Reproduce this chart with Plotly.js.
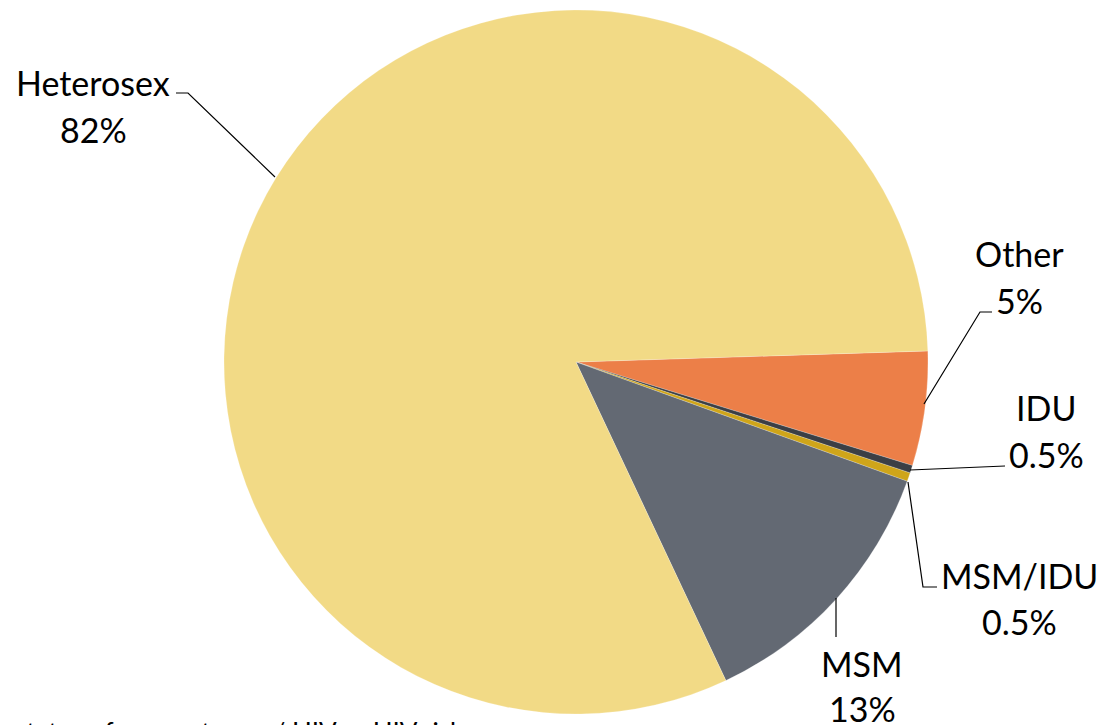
<!DOCTYPE html>
<html>
<head>
<meta charset="utf-8">
<script src="https://cdn.plot.ly/plotly-3.0.1.min.js"></script>
<style>html,body{margin:0;padding:0;background:#fff;}#chart{width:1099px;height:725px;}</style>
</head>
<body>
<div id="chart"></div>
<script>
// Data
const categories = ["Other", "IDU", "MSM/IDU", "MSM", "Heterosex"];
const shares = [5.25, 0.35, 0.4, 12.5, 81.5];
const shareLabels = ["5%", "0.5%", "0.5%", "13%", "82%"];
const sliceColors = ["#EC7F48", "#3B3F45", "#CFA51A", "#636973", "#F2DA86"];
const footnote = "status of sex partner w/ HIV or HIV risk";

const W = 1099, H = 725;
const px = x => x / W;
const py = y => 1 - y / H;

// label layout: [name x, name baseline, pct x, pct baseline]
const labelPos = {
  "Heterosex": [93, 94, 93, 141],
  "Other": [1019, 265, 1019, 312],
  "IDU": [1046, 419, 1046, 466],
  "MSM/IDU": [1019, 587, 1019, 633],
  "MSM": [862, 675, 862, 720]
};
// leader polylines in pixels
const leaders = {
  "Heterosex": [[176, 93], [188, 93], [275, 177]],
  "Other": [[992, 312], [980, 312], [924, 404]],
  "IDU": [[1005, 466], [910, 470]],
  "MSM/IDU": [[937, 587], [923, 587], [908, 482]],
  "MSM": [[836, 637], [836, 598]]
};

const FS = 34;
const font = {family: "Lato, 'Open Sans', sans-serif", size: FS, color: "#000"};
const annotations = [];
const shapes = [];
categories.forEach((c, i) => {
  const p = labelPos[c];
  annotations.push({xref: "paper", yref: "paper", x: px(p[0]), y: py(p[1] - 0.33 * FS),
    text: c, showarrow: false, xanchor: "center", yanchor: "middle", font: font});
  annotations.push({xref: "paper", yref: "paper", x: px(p[2]), y: py(p[3] - 0.33 * FS),
    text: shareLabels[i], showarrow: false, xanchor: "center", yanchor: "middle", font: font});
  const pts = leaders[c];
  let path = "M " + pts.map(q => px(q[0]) + "," + py(q[1])).join(" L ");
  shapes.push({type: "path", xref: "paper", yref: "paper", path: path,
    line: {color: "#000", width: 1.2}});
});
annotations.push({xref: "paper", yref: "paper", x: px(13), y: py(741 - 0.33 * 26),
  text: footnote, showarrow: false, xanchor: "left", yanchor: "middle",
  font: {family: "Lato, 'Open Sans', sans-serif", size: 26, color: "#000"}});

const trace = {
  type: "pie",
  labels: categories,
  values: shares,
  sort: false,
  direction: "clockwise",
  rotation: 88.2,
  marker: {colors: sliceColors, line: {color: "rgba(255,255,255,0.35)", width: 0.6}},
  textinfo: "none",
  hoverinfo: "label+percent",
  domain: {x: [px(224), px(928)], y: [py(714), py(10)]},
  showlegend: false
};

const layout = {
  width: W, height: H,
  margin: {l: 0, r: 0, t: 0, b: 0},
  paper_bgcolor: "#fff",
  showlegend: false,
  annotations: annotations,
  shapes: shapes
};
Plotly.newPlot("chart", [trace], layout, {displayModeBar: false, staticPlot: true});
</script>
</body>
</html>
